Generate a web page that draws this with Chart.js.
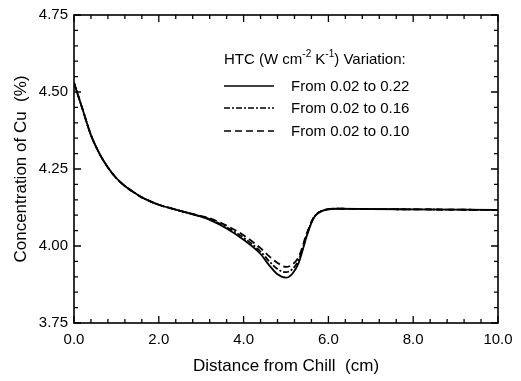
<!DOCTYPE html>
<html>
<head>
<meta charset="utf-8">
<script src="https://cdn.jsdelivr.net/npm/chart.js@4"></script>
<style>
  html, body { margin: 0; padding: 0; background: #fff; }
  #wrap { width: 521px; height: 381px; }
</style>
</head>
<body>
<div id="wrap"><canvas id="cuChart" width="521" height="381"></canvas></div>
<script>
  // distance from chill (cm)
  const distA = [0, 0.2, 0.4, 0.6, 0.8, 1.0, 1.2, 1.4, 1.6, 1.8, 2.0, 2.4, 2.8, 3.2, 3.6, 4.0, 4.4, 4.6, 4.8, 5.0, 5.15, 5.3, 5.5, 5.65, 5.85, 6.2, 7.0, 8.0, 9.0, 10.0];

  // concentration of Cu (%)
  const cu022 = [4.53, 4.445, 4.36, 4.30, 4.255, 4.22, 4.195, 4.175, 4.158, 4.145, 4.134, 4.118, 4.103, 4.085, 4.057, 4.02, 3.974, 3.938, 3.908, 3.897, 3.91, 3.945, 4.037, 4.09, 4.114, 4.121, 4.12, 4.119, 4.118, 4.117];
  const cu016 = [4.53, 4.445, 4.36, 4.30, 4.255, 4.22, 4.195, 4.175, 4.158, 4.145, 4.134, 4.118, 4.103, 4.087, 4.061, 4.027, 3.982, 3.951, 3.925, 3.915, 3.925, 3.955, 4.04, 4.091, 4.114, 4.121, 4.12, 4.119, 4.118, 4.117];
  const cu010 = [4.53, 4.445, 4.36, 4.30, 4.255, 4.22, 4.195, 4.175, 4.158, 4.145, 4.134, 4.118, 4.104, 4.09, 4.066, 4.035, 3.993, 3.967, 3.945, 3.932, 3.94, 3.965, 4.045, 4.092, 4.114, 4.121, 4.12, 4.119, 4.118, 4.117];

  const seriesLabels = ['From 0.02 to 0.22', 'From 0.02 to 0.16', 'From 0.02 to 0.10'];
  const xTicks = [0, 2, 4, 6, 8, 10];
  const yTicks = [3.75, 4.00, 4.25, 4.50, 4.75];

  const FONT = '"Liberation Sans", Arial, sans-serif';

  function pts(ys) {
    return distA.map((x, i) => ({ x: x, y: ys[i] }));
  }

  // inward ticks on all four sides + frame
  const frameTicks = {
    id: 'frameTicks',
    afterDatasetsDraw(chart) {
      const { ctx, chartArea: a, scales: { x, y } } = chart;
      ctx.save();
      ctx.strokeStyle = '#000';
      ctx.lineWidth = 1.6;
      ctx.strokeRect(a.left, a.top, a.right - a.left, a.bottom - a.top);
      ctx.lineWidth = 1.3;
      ctx.beginPath();
      for (let i = 0; i <= 25; i++) {
        const v = i * 0.4;
        const px = x.getPixelForValue(v);
        const len = i % 5 === 0 ? 7 : 4;
        ctx.moveTo(px, a.bottom); ctx.lineTo(px, a.bottom - len);
        ctx.moveTo(px, a.top); ctx.lineTo(px, a.top + len);
      }
      for (let i = 0; i <= 20; i++) {
        const v = 3.75 + i * 0.05;
        const py = y.getPixelForValue(v);
        const len = i % 5 === 0 ? 7 : 4;
        ctx.moveTo(a.left, py); ctx.lineTo(a.left + len, py);
        ctx.moveTo(a.right, py); ctx.lineTo(a.right - len, py);
      }
      ctx.stroke();
      ctx.restore();
    }
  };

  // in-plot legend with superscripts
  const htcLegend = {
    id: 'htcLegend',
    afterDraw(chart) {
      const ctx = chart.ctx;
      const x0 = 224, textX = 291;
      ctx.save();
      ctx.fillStyle = '#000';
      ctx.textBaseline = 'middle';
      ctx.textAlign = 'left';
      const parts = [['HTC (W cm', 0], ['-2', 1], [' K', 0], ['-1', 1], [') Variation:', 0]];
      let cx = x0;
      const ty = 60;
      parts.forEach(([s, sup]) => {
        ctx.font = (sup ? '10px ' : '15px ') + FONT;
        ctx.fillText(s, cx, sup ? ty - 6 : ty);
        cx += ctx.measureText(s).width;
      });
      const dashes = [[], [6, 2, 2, 2], [7, 4]];
      const rows = [86, 108, 131];
      ctx.font = '15px ' + FONT;
      seriesLabels.forEach((lab, i) => {
        ctx.beginPath();
        ctx.setLineDash(dashes[i]);
        ctx.lineWidth = 1.6;
        ctx.moveTo(x0, rows[i]);
        ctx.lineTo(x0 + 50, rows[i]);
        ctx.stroke();
        ctx.setLineDash([]);
        ctx.fillText(lab, textX, rows[i] + 1);
      });
      ctx.restore();
    }
  };

  const common = { borderColor: '#000', borderWidth: 1.8, pointRadius: 0, fill: false, cubicInterpolationMode: 'monotone' };

  new Chart(document.getElementById('cuChart'), {
    type: 'line',
    data: {
      datasets: [
        Object.assign({ label: seriesLabels[0], data: pts(cu022), borderDash: [] }, common),
        Object.assign({ label: seriesLabels[1], data: pts(cu016), borderDash: [6, 2, 2, 2] }, common),
        Object.assign({ label: seriesLabels[2], data: pts(cu010), borderDash: [7, 4] }, common)
      ]
    },
    options: {
      responsive: false,
      animation: false,
      layout: { padding: { top: 10, right: 23, left: 0, bottom: 0 } },
      plugins: { legend: { display: false }, tooltip: { enabled: false } },
      scales: {
        x: {
          type: 'linear', min: 0, max: 10,
          afterBuildTicks: s => { s.ticks = xTicks.map(v => ({ value: v })); },
          afterFit: s => { s.height = 58; },
          grid: { display: false, drawTicks: false },
          border: { display: false },
          ticks: { color: '#000', padding: 8, maxRotation: 0, font: { family: FONT, size: 15 }, callback: v => Number(v).toFixed(1) },
          title: { display: true, text: 'Distance from Chill  (cm)', color: '#000', font: { family: FONT, size: 17 }, padding: { top: 10 } }
        },
        y: {
          type: 'linear', min: 3.75, max: 4.75,
          afterBuildTicks: s => { s.ticks = yTicks.map(v => ({ value: v })); },
          afterFit: s => { s.width = 74; },
          grid: { display: false, drawTicks: false },
          border: { display: false },
          ticks: { color: '#000', padding: 6, font: { family: FONT, size: 15 }, callback: v => Number(v).toFixed(2) },
          title: { display: true, text: 'Concentration of Cu  (%)', color: '#000', font: { family: FONT, size: 17 }, padding: { top: 11, bottom: 0 } }
        }
      }
    },
    plugins: [frameTicks, htcLegend]
  });
</script>
</body>
</html>
